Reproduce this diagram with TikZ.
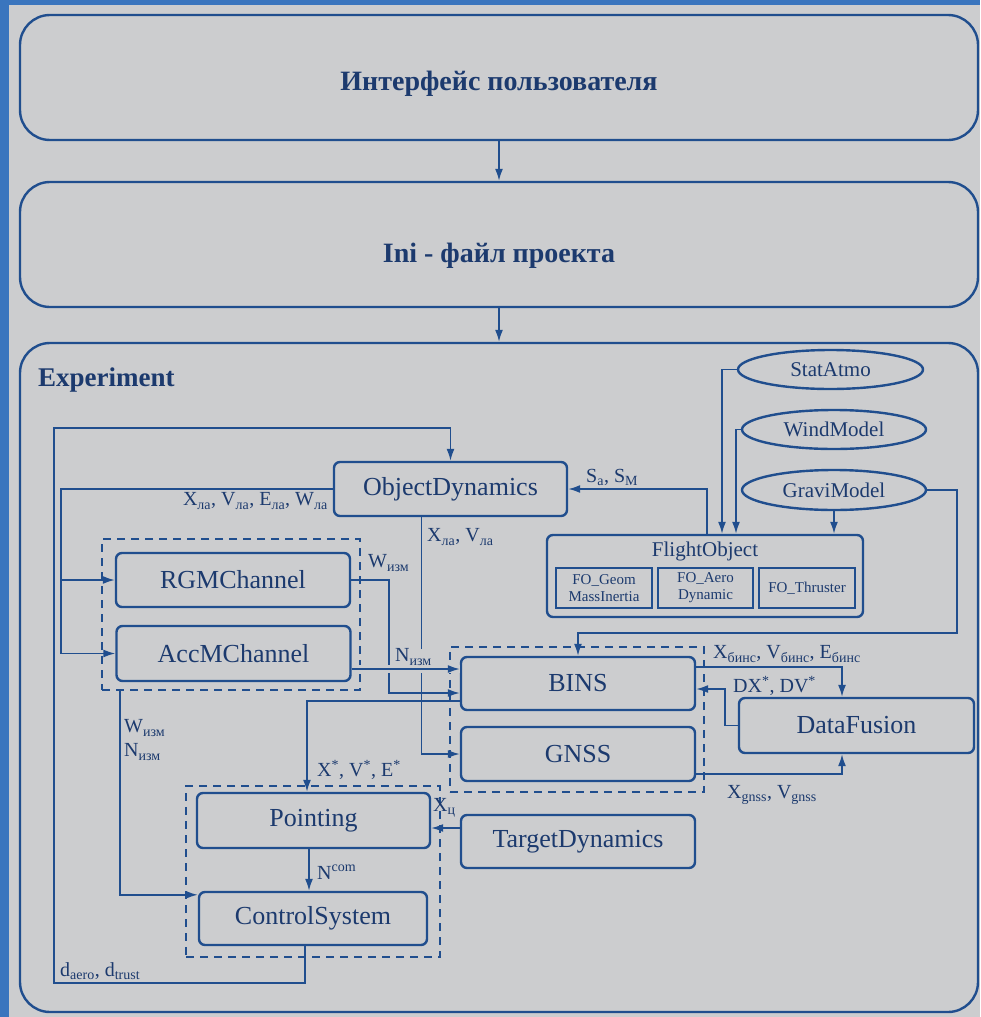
\documentclass[tikz,border=0pt]{standalone}
\usepackage{fontspec}
\setmainfont{Liberation Serif}
\usetikzlibrary{arrows.meta,shapes.geometric}
\definecolor{bgc}{RGB}{204,205,207}
\definecolor{framec}{RGB}{58,117,190}
\definecolor{linec}{RGB}{32,78,142}
\definecolor{textc}{RGB}{28,58,110}

\begin{document}
\begin{tikzpicture}[x=1pt, y=-1pt,
	bigbox/.style={draw=linec, line width=2.4pt, rounded corners=30pt, minimum width=958pt, text depth=0pt, text=textc, font=\bfseries\fontsize{28}{32}\selectfont},
	box/.style={draw=linec, line width=2.4pt, rounded corners=6pt, minimum width=234pt, minimum height=54pt, inner sep=0pt, text=textc, font=\fontsize{26}{30}\selectfont},
	oval/.style={draw=linec, line width=2.4pt, ellipse, minimum width=184pt, minimum height=39pt, inner sep=0pt, text=textc, font=\fontsize{21}{24}\selectfont},
	subbox/.style={draw=linec, line width=2.4pt, minimum width=95pt, minimum height=40pt, inner sep=0pt, align=center, text=textc, font=\fontsize{15}{17}\selectfont},
	grp/.style={draw=linec, line width=1.6pt, dash pattern=on 8pt off 6pt, minimum width=254pt, inner sep=0pt},
	arr/.style={draw=linec, line width=1.6pt, -{Latex[length=12pt,width=8pt]}},
	lbl/.style={text=textc, font=\fontsize{20}{24}\selectfont, inner sep=0pt, anchor=west}]
	\fill[framec] (0,0) rectangle (980,1017);
	\fill[bgc] (9,5) rectangle (980,1017);
	\useasboundingbox (0,0) rectangle (980,1017);

	% upper blocks
	\node[bigbox, minimum height=125pt, text height=25pt] at (499,77.5) (U) {Интерфейс пользователя};
	\node[bigbox, minimum height=125pt, text height=35pt] at (499,244.5) (INI) {Ini - файл проекта};
	\node[bigbox, minimum height=669pt] at (499,677.5) (EXP) {};
	\node[lbl, font=\bfseries\fontsize{27}{30}\selectfont] at (38,380) (EXPt) {Experiment};
	\draw[arr] (U) -- (INI);
	\draw[arr] (INI) -- (EXP);

	% groups
	\node[grp, minimum width=258pt, minimum height=151pt] at (231,614.5) (G1) {};
	\node[grp, minimum height=145pt] at (577,719.5) (G2) {};
	\node[grp, minimum height=171pt] at (313,871.5) (G3) {};

	% blocks
	\node[box, minimum width=233pt] at (450.5,489) (OD) {ObjectDynamics};
	\node[box] at (233,580) (RGM) {RGMChannel};
	\node[box, minimum height=55pt] at (233.5,653.5) (ACC) {AccMChannel};
	\node[box, minimum height=53pt] at (578,683.5) (BINS) {BINS};
	\node[box] at (578,754) (GNSS) {GNSS};
	\node[box, minimum width=235pt, minimum height=55pt] at (856.5,725.5) (DF) {DataFusion};
	\node[box, minimum height=53pt] at (578,841.5) (TD) {TargetDynamics};
	\node[box, minimum width=233pt, minimum height=55pt] at (313.5,820.5) (PT) {Pointing};
	\node[box, minimum width=228pt, minimum height=53pt] at (313,918.5) (CS) {ControlSystem};

	% flight object
	\node[box, minimum width=316pt, minimum height=82pt] at (705,576) (FO) {};
	\node[lbl, anchor=center, font=\fontsize{21}{24}\selectfont] at (705,551) (FOt) {FlightObject};
	\node[subbox, minimum width=96pt] at (604,588) (FOa) {FO\_Geom\\MassInertia};
	\node[subbox] at (705.5,588) (FOb) {FO\_Aero\\Dynamic};
	\node[subbox, minimum width=96pt] at (807,588) (FOc) {FO\_Thruster};
	\node[oval, minimum width=185pt] at (830.5,369.5) (SA) {StatAtmo};
	\node[oval] at (834,429.5) (WM) {WindModel};
	\node[oval, minimum height=40pt] at (834,490) (GM) {GraviModel};

	% connectors
	\draw[arr] ([xshift=-8pt]CS.south) |- (54,983) -- (54,428) -| (OD.north);
	\node[lbl] at (60,971) (Ld) {d\textsubscript{aero}, d\textsubscript{trust}};
	\draw[arr] (OD.west) -- ++(-272,0) |- (RGM.west);
	\draw[arr] (OD.west) -- ++(-272,0) |- (ACC.west);
	\node[lbl, anchor=east] at (328,501) (Lod) {X\textsubscript{ла}, V\textsubscript{ла}, E\textsubscript{ла}, W\textsubscript{ла}};
	\draw[arr] ([xshift=-29pt]OD.south) |- (GNSS.west);
	\node[lbl] at (427,537) (Lxv) {X\textsubscript{ла}, V\textsubscript{ла}};
	\draw[arr] (RGM.east) -- (389,580) |- ([yshift=-9.5pt]BINS.west);
	\node[lbl] at (368,563) (Lw) {W\textsubscript{изм}};
	\draw[arr, preaction={draw=bgc, line width=8pt, -}] ([yshift=-15.5pt]ACC.east) -- ([yshift=14.5pt]BINS.west);
	\node[lbl, fill=bgc] at (395,657) (Ln) {N\textsubscript{изм}};
	\draw[arr] ([yshift=-17.5pt]BINS.west) -| ([xshift=-6.5pt]PT.north);
	\node[lbl] at (317,770) (Lxs) {X\textsuperscript{*}, V\textsuperscript{*}, E\textsuperscript{*}};
	\draw[arr] ([xshift=-111pt]G1.south) |- ([yshift=-4pt]CS.north west);
	\node[lbl, align=left] at (124,740) (Lwn) {W\textsubscript{изм}\\N\textsubscript{изм}};
	\draw[arr] ([xshift=-4.5pt]PT.south) -- ([xshift=-4pt]CS.north);
	\node[lbl] at (317,872) (Lnc) {N\textsuperscript{com}};
	\draw[arr] ([yshift=13.5pt]TD.west) -- ([yshift=-7.5pt]PT.east);
	\node[lbl] at (433,808) (Lxc) {X\textsubscript{ц}};
	\draw[arr] (GM.east) -| (957,633) -| (BINS.north);
	\draw[arr] ([yshift=16.5pt]BINS.east) -| ([xshift=-14.5pt]DF.north);
	\node[lbl] at (713,654) (Lb) {X\textsubscript{бинс}, V\textsubscript{бинс}, E\textsubscript{бинс}};
	\draw[arr] (DF.west) -- ++(-13,0) |- ([yshift=-5.5pt]BINS.east);
	\node[lbl] at (733,686) (Ldx) {DX\textsuperscript{*}, DV\textsuperscript{*}};
	\draw[arr] ([yshift=-20pt]GNSS.east) -| ([xshift=-14.5pt]DF.south);
	\node[lbl] at (727,795) (Lg) {X\textsubscript{gnss}, V\textsubscript{gnss}};
	\draw[arr] ([xshift=2pt]FO.north) |- (OD.east);
	\node[lbl] at (586,477) (Ls) {S\textsubscript{a}, S\textsubscript{M}};
	\draw[arr] (SA.west) -| ([xshift=17pt]FO.north);
	\draw[arr] (WM.west) -| ([xshift=31pt]FO.north);
	\draw[arr] (GM.south) -- (GM.south |- FO.north);
\end{tikzpicture}
\end{document}
